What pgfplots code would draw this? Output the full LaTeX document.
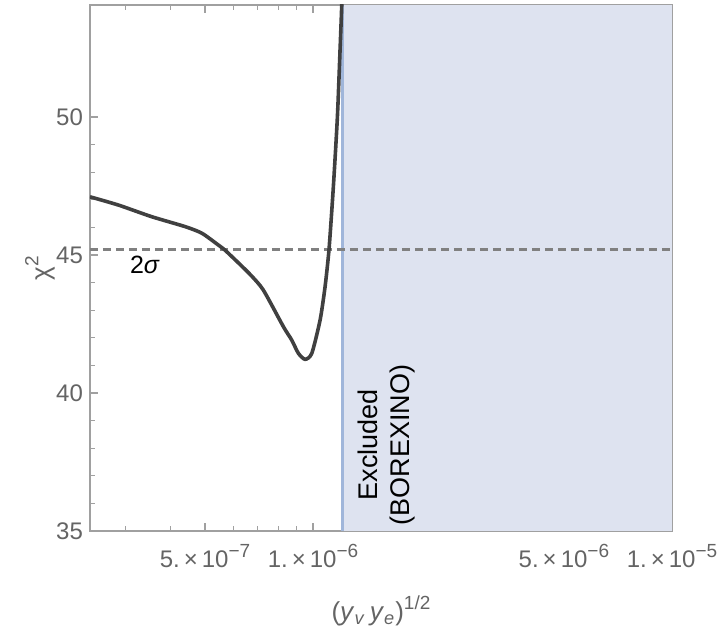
\documentclass[border=0pt]{standalone}
\usepackage{fontspec}
\setmainfont{Liberation Sans}
\usepackage{pgfplots}
\pgfplotsset{compat=1.18}

\definecolor{framegray}{RGB}{160,160,160}
\definecolor{labelgray}{RGB}{100,100,100}
\definecolor{curvegray}{RGB}{64,64,64}
\definecolor{dashgray}{RGB}{128,128,128}
\definecolor{shadefill}{RGB}{222,227,240}
\definecolor{shadeedge}{RGB}{160,182,218}

% exponent a little larger than \textsuperscript, as in the original
\newcommand{\ex}[1]{\raisebox{0.42em}{\fontsize{9.5}{10}\selectfont #1}}

\begin{document}
\begin{tikzpicture}

\begin{axis}[
    name=ax,
    scale only axis,
    width=291pt,
    height=263pt,
    xmode=log,
    xmin=2.39e-7, xmax=1e-5,
    ymin=35, ymax=54.06,
    axis line style={framegray, line width=0.7pt},
    tick style={framegray, line width=0.6pt},
    major tick length=4pt,
    minor tick length=2.5pt,
    xtick={5e-7,1e-6,5e-6,1e-5},
    xticklabels={
        5.\,×\,10\ex{−7},
        1.\,×\,10\ex{−6},
        5.\,×\,10\ex{−6},
        1.\,×\,10\ex{−5}},
    minor xtick={3e-7,4e-7,6e-7,7e-7,8e-7,9e-7,2e-6,3e-6,4e-6,6e-6,7e-6,8e-6,9e-6},
    ytick={35,40,45,50},
    minor y tick num=4,
    /pgf/number format/assume math mode=true,
    ticklabel style={font=\fontsize{12}{14}\selectfont, text=labelgray},
    xticklabel style={yshift=-3pt},
    xlabel={(\textit{y}\textsubscript{\textit{v}}\,\textit{y}\textsubscript{\textit{e}})\ex{1/2}},
    ylabel={χ\ex{2}},
    label style={font=\fontsize{13}{15}\selectfont, text=labelgray},
    xlabel style={at={(axis description cs:0.5,0)}, anchor=center, yshift=-40pt},
    ylabel style={at={(axis description cs:0,0.5)}, anchor=center, yshift=25pt},
    clip=true,
]

% excluded region
\addplot[draw=none, fill=shadefill] coordinates {
    (1.205e-6,35) (1e-5,35) (1e-5,54.06) (1.205e-6,54.06)
} -- cycle;
\addplot[shadeedge, line width=1.5pt] coordinates {(1.205e-6,35) (1.205e-6,54.06)};

% 2 sigma level
\addplot[dashgray, line width=1.5pt, dash pattern=on 4pt off 2.5pt] coordinates {
    (2.39e-7,45.2) (1e-5,45.2)
};

% chi^2 curve
\addplot[curvegray, line width=1.8pt, smooth, tension=0.4] coordinates {
    (2.39e-7,47.11)
    (2.87e-7,46.81)
    (3.55e-7,46.39)
    (4.40e-7,46.03)
    (4.90e-7,45.79)
    (5.45e-7,45.36)
    (5.68e-7,45.18)
    (6.19e-7,44.72)
    (6.72e-7,44.26)
    (7.27e-7,43.73)
    (8.27e-7,42.40)
    (8.72e-7,41.92)
    (9.10e-7,41.44)
    (9.50e-7,41.22)
    (9.92e-7,41.44)
    (1.046e-6,42.64)
    (1.080e-6,43.85)
    (1.108e-6,45.22)
    (1.139e-6,47.47)
    (1.169e-6,50.01)
    (1.189e-6,52.43)
    (1.202e-6,54.06)
    (1.206e-6,55.0)
};

\node[font=\fontsize{12.5}{14}\selectfont] at (axis cs:3.40e-7,44.64) {2\textit{σ}};
\node[rotate=90, align=center, font=\fontsize{13.5}{16}\selectfont]
    at (axis cs:1.607e-6,38.12) {Excluded\\(BOREXINO)};

\end{axis}

\pgfresetboundingbox
\path[use as bounding box]
    ([xshift=-45pt, yshift=-48.5pt]ax.south west)
    rectangle ([xshift=24.5pt, yshift=2.5pt]ax.north east);

\end{tikzpicture}
\end{document}
